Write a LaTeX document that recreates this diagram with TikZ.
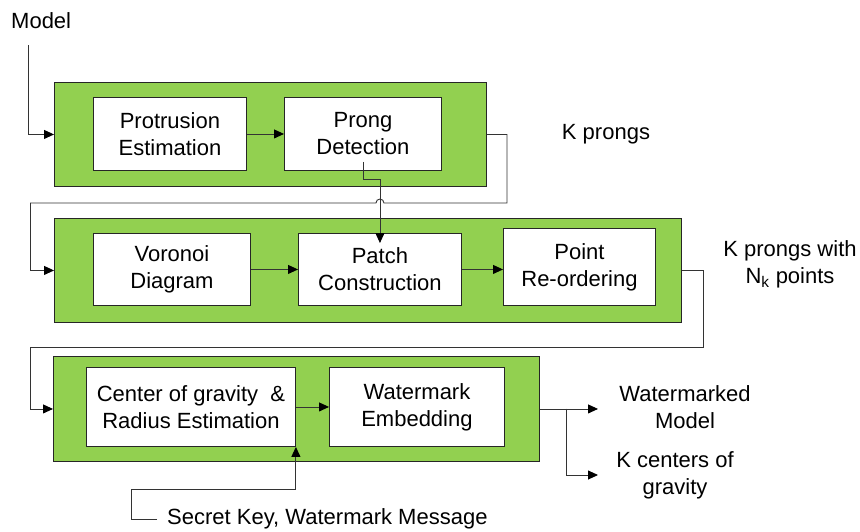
\documentclass[tikz,border=0pt]{standalone}
\usepackage{fontspec}
\setmainfont{Liberation Sans}
\usetikzlibrary{arrows.meta,calc}
\definecolor{stagegreen}{HTML}{92D050}
\begin{document}
\begin{tikzpicture}[x=1pt,y=-1pt,
  font=\fontsize{22}{27}\selectfont,
  stage/.style={draw=black!85,line width=0.9pt,fill=stagegreen,inner sep=0pt,anchor=north west},
  proc/.style={draw=black!85,line width=0.9pt,fill=white,inner sep=0pt,anchor=north west,align=center},
  lbl/.style={align=center,inner sep=0pt},
  link/.style={draw=black!80,line width=0.9pt},
  arr/.style={link,-{Triangle[length=10pt,width=9pt,black]}}]
\useasboundingbox (0,0) rectangle (860,531);

% stage containers
\node[stage,minimum width=432,minimum height=104] (g1) at (54,82) {};
\node[stage,minimum width=627,minimum height=104] (g2) at (54,218) {};
\node[stage,minimum width=486,minimum height=105] (g3) at (53,356) {};

% processing blocks
\node[proc,minimum width=153,minimum height=73] (prot) at (93,97) {Protrusion\\Estimation};
\node[proc,minimum width=157,minimum height=73] (prong) at (284,97) {Prong\\Detection};
\node[proc,minimum width=157,minimum height=72] (vor) at (93,233) {Voronoi\\Diagram};
\node[proc,minimum width=163,minimum height=72] (patch) at (298,233) {Patch\\Construction};
\node[proc,minimum width=152,minimum height=77] (reord) at (503,228) {Point\\Re-ordering};
\node[proc,minimum width=209,minimum height=79] (cog) at (86,367) {Center of gravity\ \ \&\\Radius Estimation};
\node[proc,minimum width=175,minimum height=79] (wme) at (329,367) {Watermark\\Embedding};

% free labels
\node[lbl,anchor=west] (model) at (11,21) {Model};
\node[lbl] (kp) at (606,134) {K prongs};
\node[lbl] (kpn) at (790,264) {K prongs with\\N\textsubscript{k} points};
\node[lbl] (wmodel) at (685,407) {Watermarked\\Model};
\node[lbl] (kcog) at (675,475) {K centers of\\gravity};
\node[lbl,anchor=west] (key) at (167,519) {Secret Key, Watermark Message};

% routing points
\coordinate (m0) at (28,45);
\coordinate (jr) at (507,203);
\coordinate (jl) at (30,203);
\coordinate (kr) at (703,347);
\coordinate (kl) at (30,347);
\coordinate (br) at (566,408.5);
\coordinate (sk) at (131,489);

% stage 1
\draw[arr] (m0) |- (g1.west);
\draw[arr] (prot.east) -- (prong.west);
\draw[link] (g1.east) -| (jr)
  -- ($(patch.north |- jr)+(4,0)$) arc[start angle=0,end angle=-180,radius=4]
  -- (jl);
\draw[arr] (jl) |- (g2.west);
\draw[arr] ($(prong.south)+(0,-9)$) -- ++(0,18) -| ($(patch.north)+(0,10)$);

% stage 2
\draw[arr] (vor.east |- patch.west) -- (patch.west);
\draw[arr] (patch.east) -- (reord.west |- patch.east);
\draw[link] (g2.east) -| (kr) -- (kl);
\draw[arr] (kl) |- (g3.west);

% stage 3
\draw[arr] (cog.east) -- (wme.west);
\draw[arr] (key.west) ++(-10,0) -| (sk) -| (cog.south east);
\draw[arr] (g3.east) -- (g3.east -| 598,0);
\draw[arr] (br) |- (kcog.west -| 598,0);
\end{tikzpicture}
\end{document}
